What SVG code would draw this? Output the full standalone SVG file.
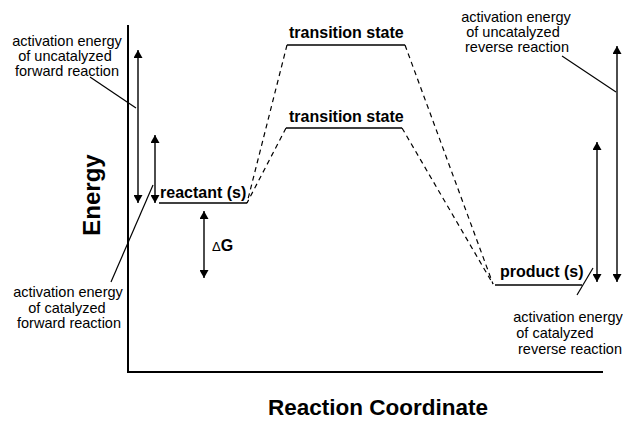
<svg xmlns="http://www.w3.org/2000/svg" width="623" height="422" viewBox="0 0 623 422">
<style>
text{font-family:"Liberation Sans",Arial,Helvetica,sans-serif;fill:#000}
.lbl{font-size:14.5px}
.c{text-anchor:middle}
.b{font-weight:bold;font-size:16px}
.axis{fill:none;stroke:#000;stroke-width:2}
.lvl{stroke:#000;stroke-width:1.4;fill:none}
.dash{stroke:#000;stroke-width:1.2;stroke-dasharray:5,4;fill:none}
.lead{stroke:#000;stroke-width:1.2;fill:none}
.arr{stroke:#000;stroke-width:1.4;fill:none;marker-start:url(#ah);marker-end:url(#ah)}
</style>
<defs>
<marker id="ah" viewBox="0 0 8 9" refX="8" refY="4.5" markerWidth="8" markerHeight="9" markerUnits="userSpaceOnUse" orient="auto-start-reverse">
<path d="M0,0 L8,4.5 L0,9 z" fill="#000"/>
</marker>
</defs>
<rect width="623" height="422" fill="#fff"/>
<g id="axes">
<path class="axis" d="M128,25 V372 H603"/>
<text x="100" y="195" class="b c" style="font-size:24px" transform="rotate(-90 100 195)">Energy</text>
<text x="378" y="415" class="b c" style="font-size:22.5px">Reaction Coordinate</text>
</g>
<g id="reactant">
<line class="lvl" x1="159" y1="203" x2="247" y2="203"/>
<text x="160" y="198" class="b">reactant (s)</text>
</g>
<g id="ts-uncat">
<line class="lvl" x1="287" y1="45" x2="405" y2="45"/>
<text x="289" y="38" class="b">transition state</text>
</g>
<g id="ts-cat">
<line class="lvl" x1="286" y1="128" x2="402" y2="128"/>
<text x="289" y="122" class="b">transition state</text>
</g>
<g id="product">
<line class="lvl" x1="495" y1="285" x2="582" y2="285"/>
<text x="500" y="277" class="b">product (s)</text>
</g>
<g id="dg">
<text x="212" y="251" class="b"><tspan style="font-weight:normal;font-size:13px">Δ</tspan>G</text>
</g>
<g id="lbl-uncat-fwd">
<text class="lbl c" x="67" y="46">activation energy</text>
<text class="lbl c" x="65" y="61">of uncatalyzed</text>
<text class="lbl c" x="67" y="76">forward reaction</text>
</g>
<g id="lbl-cat-fwd">
<text class="lbl c" x="68" y="297">activation energy</text>
<text class="lbl c" x="67" y="313">of catalyzed</text>
<text class="lbl c" x="69" y="328">forward reaction</text>
</g>
<g id="lbl-uncat-rev">
<text class="lbl c" x="516" y="22">activation energy</text>
<text class="lbl c" x="513" y="37">of uncatalyzed</text>
<text class="lbl c" x="517" y="52">reverse reaction</text>
</g>
<g id="lbl-cat-rev">
<text class="lbl c" x="568" y="322">activation energy</text>
<text class="lbl c" x="555" y="338">of catalyzed</text>
<text class="lbl c" x="570" y="354">reverse reaction</text>
</g>
<g id="connectors">
<path class="dash" d="M287,45 L247,203"/>
<path class="dash" d="M286,128 L247,203"/>
<path class="dash" d="M405,45 L493,284"/>
<path class="dash" d="M402,128 L493,284"/>
<line class="arr" x1="138" y1="50" x2="138" y2="203"/>
<line class="arr" x1="155" y1="135" x2="155" y2="203"/>
<line class="arr" x1="204" y1="211" x2="204" y2="278"/>
<line class="arr" x1="597" y1="142" x2="597" y2="282"/>
<line class="arr" x1="617" y1="46" x2="617" y2="282"/>
<line class="lead" x1="90" y1="77" x2="136" y2="108"/>
<line class="lead" x1="153" y1="185" x2="111" y2="282"/>
<line class="lead" x1="562" y1="56" x2="616" y2="92"/>
<line class="lead" x1="593" y1="268" x2="577" y2="295"/>
</g>
</svg>
